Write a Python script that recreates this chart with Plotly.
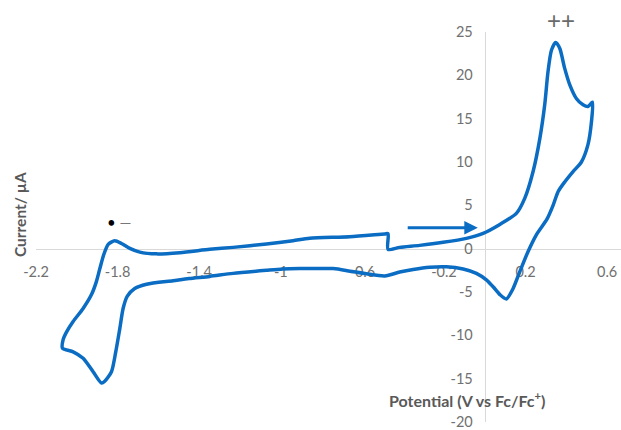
import plotly.graph_objects as go

# Cyclic voltammogram, potential in V vs Fc/Fc+, current in µA.
# Sweep 1: anodic scan from the start potential up to the positive limit
sweep1_potential = [-0.474, -0.417, -0.319, -0.204, -0.09, -0.008, 0.074, 0.155, 0.196,
                    0.237, 0.27, 0.294, 0.31, 0.327, 0.348, 0.368, 0.392, 0.417, 0.45,
                    0.482, 0.506, 0.528]
sweep1_current = [-0.08, 0.15, 0.38, 0.73, 1.19, 1.77, 2.8, 4.07, 5.8,
                  8.9, 12.7, 16.6, 20.4, 22.9, 23.8, 23.1, 20.8, 18.9, 17.3,
                  16.6, 16.4, 16.9]

# Sweep 2: cathodic scan from the positive limit down to the negative limit
sweep2_potential = [0.523, 0.506, 0.474, 0.433, 0.392, 0.36, 0.335, 0.305, 0.253, 0.212,
                    0.172, 0.139, 0.106, 0.074, 0.041, 0.008, -0.041, -0.106, -0.188,
                    -0.27, -0.351, -0.417, -0.49, -0.58, -0.66, -0.743, -0.907, -0.99,
                    -1.07, -1.234, -1.348, -1.45, -1.528, -1.658, -1.716, -1.753, -1.773,
                    -1.789, -1.809, -1.83, -1.863, -1.879, -1.92, -1.969, -2.018, -2.07]
sweep2_current = [14.6, 12.0, 10.0, 8.9, 7.7, 6.6, 5.0, 3.4, 1.6, -0.35,
                  -2.65, -4.6, -5.8, -5.3, -4.4, -3.6, -2.85, -2.35, -2.1,
                  -2.15, -2.4, -2.7, -3.15, -2.9, -2.6, -2.3, -2.3, -2.35,
                  -2.5, -2.85, -3.2, -3.45, -3.7, -4.1, -4.6, -5.5, -6.9,
                  -9.2, -11.9, -14.2, -15.3, -15.5, -14.2, -12.65, -11.9, -11.5]

# Sweep 3: anodic scan back to the start potential
sweep3_potential = [-2.067, -2.05, -2.018, -1.969, -1.928, -1.904, -1.887, -1.868, -1.846,
                    -1.814, -1.781, -1.74, -1.691, -1.61, -1.495, -1.348, -1.234, -1.07,
                    -0.94, -0.858, -0.662, -0.49, -0.474, -0.474]
sweep3_current = [-10.5, -9.6, -8.4, -6.9, -5.3, -3.8, -2.3, -0.7, 0.5,
                  0.9, 0.6, 0.03, -0.4, -0.6, -0.46, -0.08, 0.15, 0.54,
                  0.92, 1.2, 1.38, 1.7, 1.72, -0.08]

x_ticks = [-2.2, -1.8, -1.4, -1.0, -0.6, -0.2, 0.2, 0.6]
x_tick_text = ["-2.2", "-1.8", "-1.4", "-1", "-0.6", "-0.2", "0.2", "0.6"]
y_ticks = [-20, -15, -10, -5, 0, 5, 10, 15, 20, 25]
y_tick_text = [str(v) for v in y_ticks]

potential = sweep1_potential + sweep2_potential + sweep3_potential
current = sweep1_current + sweep2_current + sweep3_current

X_RANGE = [-2.2, 0.668]
Y_RANGE = [-20, 25]

LINE_BLUE = "#0a6cc2"
AXIS_GREY = "#d9d9d9"
TICK_GREY = "#707070"
TITLE_GREY = "#595959"
FONT = "Lato, 'Open Sans', sans-serif"

fig = go.Figure()
fig.add_trace(go.Scatter(
    x=potential, y=current, mode="lines",
    line=dict(color=LINE_BLUE, width=3.5, shape="spline", smoothing=0.7),
    hoverinfo="skip", showlegend=False,
))

# Axes cross at the origin
x_cross = (0 - Y_RANGE[0]) / (Y_RANGE[1] - Y_RANGE[0])
y_cross = (0 - X_RANGE[0]) / (X_RANGE[1] - X_RANGE[0])

fig.update_layout(
    width=621, height=430,
    margin=dict(l=36, r=0, t=32, b=8),
    paper_bgcolor="white", plot_bgcolor="white",
    font=dict(family=FONT, color=TICK_GREY, size=14),
    xaxis=dict(
        range=X_RANGE, tickvals=x_ticks, ticktext=x_tick_text,
        showgrid=False, zeroline=False, showline=True, linecolor=AXIS_GREY, linewidth=1.2,
        anchor="free", position=x_cross, ticks="", ticklabelstandoff=10,
        ticklabeloverflow="allow",
        layer="below traces", tickfont=dict(size=14.5, color=TICK_GREY),
    ),
    yaxis=dict(
        range=Y_RANGE, tickvals=y_ticks, ticktext=y_tick_text,
        showgrid=False, zeroline=False, showline=True, linecolor=AXIS_GREY, linewidth=1.2,
        anchor="free", position=y_cross, ticks="", ticklabelstandoff=9,
        ticklabeloverflow="allow",
        layer="below traces", tickfont=dict(size=14.5, color=TICK_GREY),
    ),
)

# Scan-direction arrow
fig.add_annotation(
    x=-0.034, y=2.4, ax=-0.385, ay=2.4, xref="x", yref="y", axref="x", ayref="y",
    text="", showarrow=True, arrowhead=2, arrowsize=0.9, arrowwidth=3,
    arrowcolor=LINE_BLUE, standoff=0,
)

# Peak labels
fig.add_annotation(x=0.897, y=1.03, xref="paper", yref="paper", text="++",
                   showarrow=False, xanchor="center", yanchor="middle",
                   font=dict(family="Liberation Sans", size=24, color="#6a6a6a"))
fig.add_annotation(x=0.142, y=0.513, xref="paper", yref="paper",
                   text="•<span style='color:#777777'> —</span>",
                   showarrow=False, xanchor="center", yanchor="middle",
                   font=dict(family=FONT, size=15, color="#000000"))

# Axis titles
fig.add_annotation(x=-0.027, y=0.531, xref="paper", yref="paper", text="<b>Current/ µA</b>",
                   showarrow=False, textangle=-90, xanchor="center", yanchor="middle",
                   font=dict(family=FONT, size=15.5, color=TITLE_GREY))
fig.add_annotation(x=0.737, y=0.058, xref="paper", yref="paper",
                   text="<b>Potential (V vs Fc/Fc<sup>+</sup>)</b>", showarrow=False,
                   xanchor="center", yanchor="middle",
                   font=dict(family=FONT, size=16, color=TITLE_GREY))

fig.write_html("out.html")
